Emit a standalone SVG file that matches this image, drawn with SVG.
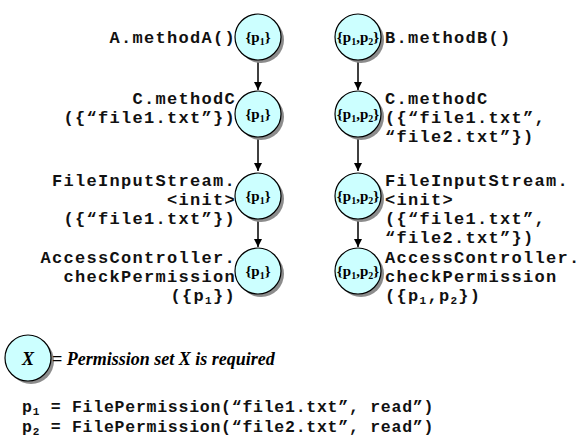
<svg xmlns="http://www.w3.org/2000/svg" width="580" height="444" viewBox="0 0 580 444">
  <defs>
    <marker id="arrow" markerWidth="10" markerHeight="10" refX="8" refY="4" orient="auto" markerUnits="userSpaceOnUse">
      <path d="M0,0 L8,4 L0,8 Z" fill="#000"/>
    </marker>
    <style>
      .shadow { fill: #8c8c8c; }
      .disc { fill: #ccffff; stroke: #000; stroke-width: 1.2; }
      .set { font-family: "Liberation Serif", "Times New Roman", serif; font-weight: bold; font-size: 15px; text-anchor: middle; }
      .code { font-family: "Liberation Mono", "Courier New", monospace; font-weight: bold; font-size: 17px; letter-spacing: 1.3px; fill: #111; }
      .left { text-anchor: end; }
      .edge { stroke: #000; stroke-width: 1.5; fill: none; marker-end: url(#arrow); }
      .note { font-family: "Liberation Serif", "Times New Roman", serif; font-weight: bold; font-style: italic; font-size: 18px; }
    </style>
  </defs>
  <rect width="580" height="444" fill="#fff"/>

  <!-- call chain edges -->
  <g id="connectors">
    <line class="edge" x1="258" y1="61" x2="258" y2="90"/>
    <line class="edge" x1="258" y1="137" x2="258" y2="171"/>
    <line class="edge" x1="258" y1="219" x2="258" y2="247"/>
    <line class="edge" x1="358" y1="61" x2="358" y2="90"/>
    <line class="edge" x1="358" y1="137" x2="358" y2="171"/>
    <line class="edge" x1="358" y1="219" x2="358" y2="247"/>
  </g>

  <!-- left chain: A.methodA -->
  <g id="a-methodA">
    <circle class="shadow" cx="261" cy="40" r="23"/>
    <circle class="disc" cx="258" cy="37" r="23"/>
    <text class="set" x="258" y="42">{p<tspan font-size="10" dy="3">1</tspan><tspan dy="-3">}</tspan></text>
    <text class="code left" x="236" y="43">A.methodA()</text>
  </g>
  <g id="c-methodC-left">
    <circle class="shadow" cx="261" cy="117" r="23"/>
    <circle class="disc" cx="258" cy="114" r="23"/>
    <text class="set" x="258" y="119">{p<tspan font-size="10" dy="3">1</tspan><tspan dy="-3">}</tspan></text>
    <text class="code left" x="236" y="104">C.methodC</text>
    <text class="code left" x="236" y="123">({“file1.txt”})</text>
  </g>
  <g id="fis-init-left">
    <circle class="shadow" cx="261" cy="199" r="23"/>
    <circle class="disc" cx="258" cy="196" r="23"/>
    <text class="set" x="258" y="201">{p<tspan font-size="10" dy="3">1</tspan><tspan dy="-3">}</tspan></text>
    <text class="code left" x="236" y="186">FileInputStream.</text>
    <text class="code left" x="236" y="205">&lt;init&gt;</text>
    <text class="code left" x="236" y="224">({“file1.txt”})</text>
  </g>
  <g id="check-left">
    <circle class="shadow" cx="261" cy="274" r="23"/>
    <circle class="disc" cx="258" cy="271" r="23"/>
    <text class="set" x="258" y="276">{p<tspan font-size="10" dy="3">1</tspan><tspan dy="-3">}</tspan></text>
    <text class="code left" x="236" y="263">AccessController.</text>
    <text class="code left" x="236" y="282">checkPermission</text>
    <text class="code left" x="236" y="301">({p<tspan font-size="11" dy="3">1</tspan><tspan dy="-3">})</tspan></text>
  </g>

  <!-- right chain: B.methodB -->
  <g id="b-methodB">
    <circle class="shadow" cx="361" cy="40" r="23"/>
    <circle class="disc" cx="358" cy="37" r="23"/>
    <text class="set" x="358" y="42">{p<tspan font-size="10" dy="3">1</tspan><tspan dy="-3">,p</tspan><tspan font-size="10" dy="3">2</tspan><tspan dy="-3">}</tspan></text>
    <text class="code" x="385" y="43">B.methodB()</text>
  </g>
  <g id="c-methodC-right">
    <circle class="shadow" cx="361" cy="117" r="23"/>
    <circle class="disc" cx="358" cy="114" r="23"/>
    <text class="set" x="358" y="119">{p<tspan font-size="10" dy="3">1</tspan><tspan dy="-3">,p</tspan><tspan font-size="10" dy="3">2</tspan><tspan dy="-3">}</tspan></text>
    <text class="code" x="385" y="104">C.methodC</text>
    <text class="code" x="385" y="123">({“file1.txt”,</text>
    <text class="code" x="385" y="142">“file2.txt”})</text>
  </g>
  <g id="fis-init-right">
    <circle class="shadow" cx="361" cy="199" r="23"/>
    <circle class="disc" cx="358" cy="196" r="23"/>
    <text class="set" x="358" y="201">{p<tspan font-size="10" dy="3">1</tspan><tspan dy="-3">,p</tspan><tspan font-size="10" dy="3">2</tspan><tspan dy="-3">}</tspan></text>
    <text class="code" x="385" y="186">FileInputStream.</text>
    <text class="code" x="385" y="205">&lt;init&gt;</text>
    <text class="code" x="385" y="224">({“file1.txt”,</text>
    <text class="code" x="385" y="243">“file2.txt”})</text>
  </g>
  <g id="check-right">
    <circle class="shadow" cx="361" cy="274" r="23"/>
    <circle class="disc" cx="358" cy="271" r="23"/>
    <text class="set" x="358" y="276">{p<tspan font-size="10" dy="3">1</tspan><tspan dy="-3">,p</tspan><tspan font-size="10" dy="3">2</tspan><tspan dy="-3">}</tspan></text>
    <text class="code" x="385" y="263">AccessController.</text>
    <text class="code" x="385" y="282">checkPermission</text>
    <text class="code" x="385" y="301">({p<tspan font-size="11" dy="3">1</tspan><tspan dy="-3">,p</tspan><tspan font-size="11" dy="3">2</tspan><tspan dy="-3">})</tspan></text>
  </g>

  <!-- legend -->
  <g id="legend">
    <circle class="shadow" cx="31" cy="361" r="23"/>
    <circle class="disc" cx="28" cy="358" r="23"/>
    <text class="note" x="28" y="365" text-anchor="middle" font-size="20">X</text>
    <text class="note" x="52" y="365">= Permission set X is required</text>
  </g>

  <!-- permission definitions -->
  <g id="definitions">
    <text class="code" x="22" y="412" style="font-size:16.5px;letter-spacing:0.75px">p<tspan font-size="11" dy="3">1</tspan><tspan dy="-3"> = FilePermission(“file1.txt”, read”)</tspan></text>
    <text class="code" x="22" y="432" style="font-size:16.5px;letter-spacing:0.75px">p<tspan font-size="11" dy="3">2</tspan><tspan dy="-3"> = FilePermission(“file2.txt”, read”)</tspan></text>
  </g>
</svg>
